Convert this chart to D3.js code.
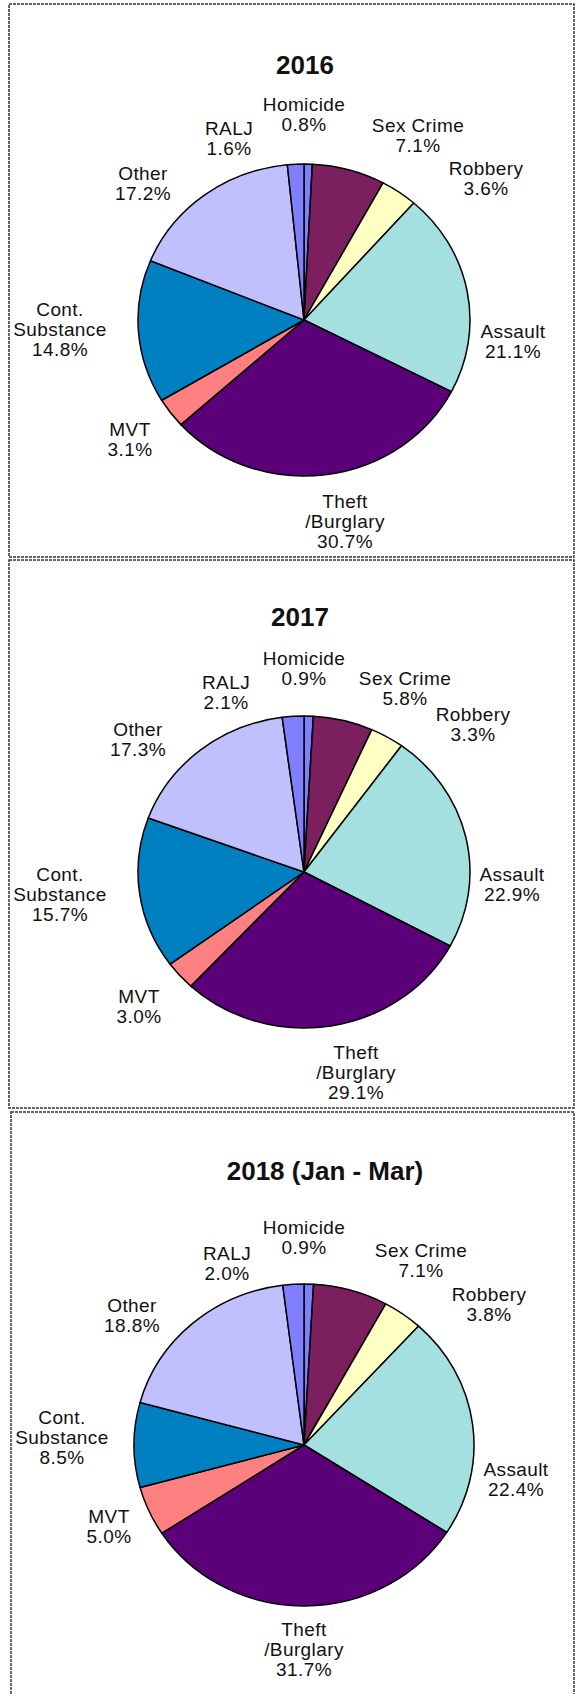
<!DOCTYPE html>
<html>
<head>
<meta charset="utf-8">
<script src="https://cdn.jsdelivr.net/npm/d3@7"></script>
<style>
  body { margin: 0; background: #fff; }
  text { font-family: "Liberation Sans", Arial, sans-serif; fill: #111; }
</style>
</head>
<body>
<script>
// slices run clockwise from 12 o'clock
var categories = ['Homicide', 'Sex Crime', 'Robbery', 'Assault', 'Theft\n/Burglary',
  'MVT', 'Cont.\nSubstance', 'Other', 'RALJ'];
var colors = ['#8080ff', '#7b1f5f', '#ffffc4', '#a4e0e0', '#5c007a',
  '#ff8080', '#0080c0', '#c0c0ff', '#8080ff'];

var titles = ['2016', '2017', '2018 (Jan - Mar)'];
var values2016 = [0.8, 7.1, 3.6, 21.1, 30.7, 3.1, 14.8, 17.2, 1.6];
var values2017 = [0.9, 5.8, 3.3, 22.9, 29.1, 3.0, 15.7, 17.3, 2.1];
var values2018 = [0.9, 7.1, 3.8, 22.4, 31.7, 5.0, 8.5, 18.8, 2.0];

// label block centres, relative to the pie centre (as placed in the original)
var labelOffsets2016 = [[0, -206], [114, -185], [182, -142], [209, 21], [41, 201],
  [-174, 119], [-244, 9], [-161, -137], [-75, -182]];
var labelOffsets2017 = [[0, -204], [101, -184], [169, -148], [208, 12], [52, 200],
  [-165, 134], [-244, 22], [-166, -133], [-78, -180]];
var labelOffsets2018 = [[0, -208], [117, -185], [185, -141], [212, 34], [0, 204],
  [-195, 81], [-242, -8], [-172, -130], [-77, -182]];

var width = 575, height = 1694;

var panels = [
  { title: titles[0], values: values2016, offsets: labelOffsets2016,
    box: [9, 4, 565, 553], cx: 304, cy: 320, rx: 166, ry: 156, tx: 305, ty: 65 },
  { title: titles[1], values: values2017, offsets: labelOffsets2017,
    box: [9, 560, 565, 548], cx: 304, cy: 872, rx: 166, ry: 156, tx: 300, ty: 617 },
  { title: titles[2], values: values2018, offsets: labelOffsets2018,
    box: [11, 1112, 563, 600], cx: 304, cy: 1445, rx: 170, ry: 161, tx: 325, ty: 1171 }
];

var svg = d3.select('body').append('svg')
  .attr('width', width)
  .attr('height', height);

var pie = d3.pie()
  .sort(null)
  .value(d => d);

panels.forEach(function(p) {
  svg.append('rect')
    .attr('x', p.box[0])
    .attr('y', p.box[1])
    .attr('width', p.box[2])
    .attr('height', p.box[3])
    .attr('fill', 'none')
    .attr('stroke', '#333')
    .attr('stroke-width', 1.5)
    .attr('stroke-dasharray', '3,1');

  svg.append('text')
    .attr('x', p.tx)
    .attr('y', p.ty + 9)
    .attr('text-anchor', 'middle')
    .attr('font-size', 26)
    .attr('font-weight', 'bold')
    .text(p.title);

  var arc = d3.arc()
    .innerRadius(0)
    .outerRadius(p.rx);

  // pie is drawn round then squashed a little, like the original
  var g = svg.append('g')
    .attr('transform', `translate(${p.cx}, ${p.cy}) scale(1, ${p.ry / p.rx})`);

  g.selectAll('path')
    .data(pie(p.values))
    .enter().append('path')
    .attr('d', arc)
    .attr('fill', (d, i) => colors[i])
    .attr('stroke', '#000')
    .attr('stroke-width', 1.5)
    .attr('stroke-linejoin', 'round')
    .attr('vector-effect', 'non-scaling-stroke');

  var labels = svg.selectAll(null)
    .data(p.values)
    .enter().append('text')
    .attr('text-anchor', 'middle')
    .attr('font-size', 19)
    .attr('letter-spacing', 0.4);

  labels.each(function(v, i) {
    var lines = categories[i].split('\n').concat([v.toFixed(1) + '%']);
    var x = p.cx + p.offsets[i][0];
    var y0 = p.cy + p.offsets[i][1] - (lines.length - 1) * 10;
    d3.select(this).selectAll('tspan')
      .data(lines)
      .enter().append('tspan')
      .attr('x', x)
      .attr('y', (d, j) => y0 + j * 20 + 7)
      .text(d => d);
  });
});
</script>
</body>
</html>
